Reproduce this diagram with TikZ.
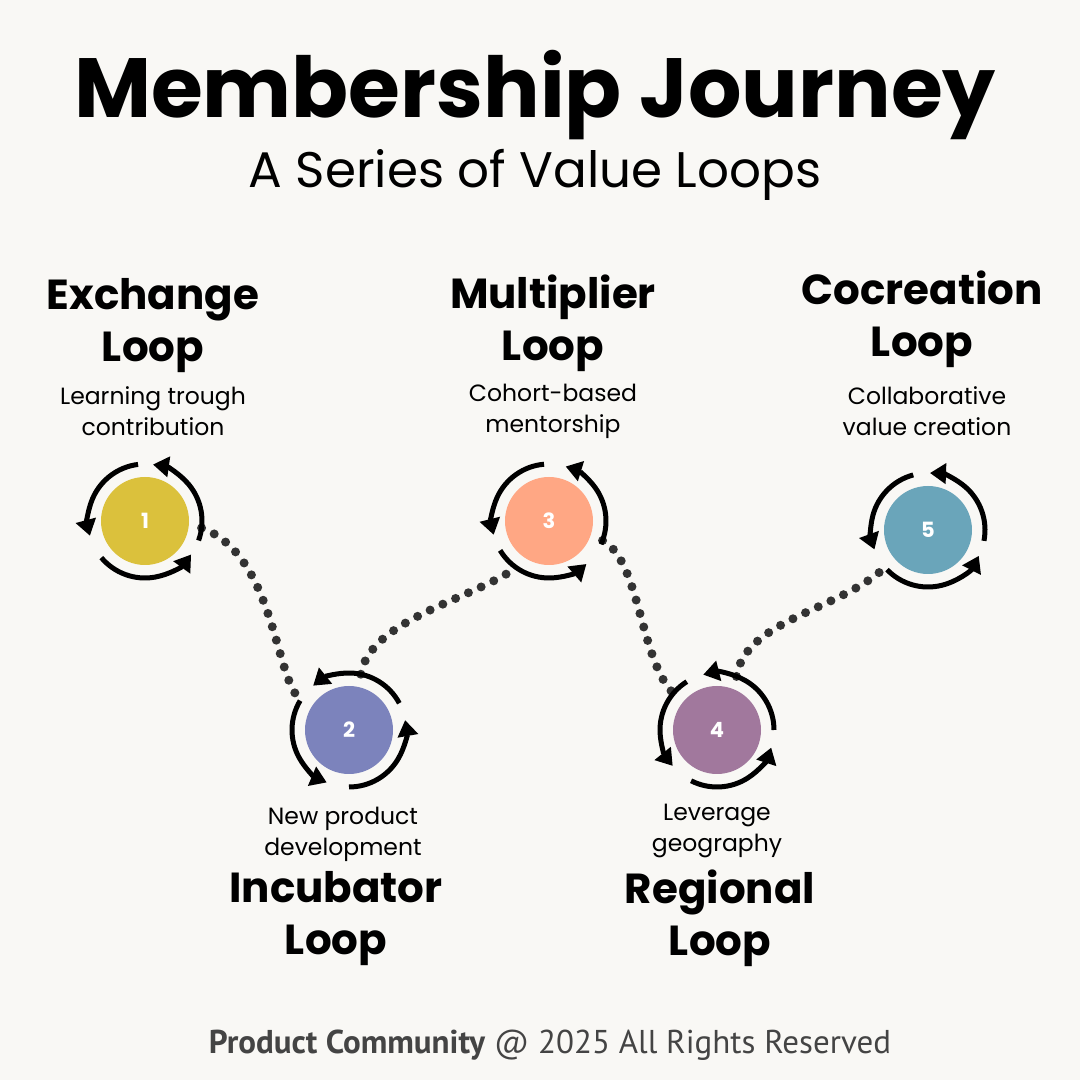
\documentclass[tikz,border=0pt]{standalone}
\usepackage{fontspec}
\setmainfont{Poppins}
\newfontfamily\footfont{PT Sans}
\usetikzlibrary{arrows.meta}

\definecolor{paper}{HTML}{F9F8F5}
\definecolor{loopyellow}{HTML}{DBC13C}
\definecolor{loopblue}{HTML}{7C83BC}
\definecolor{looppeach}{HTML}{FFA784}
\definecolor{loopmauve}{HTML}{A1789D}
\definecolor{loopteal}{HTML}{6AA5BA}
\definecolor{dotgrey}{HTML}{333333}
\definecolor{footgrey}{HTML}{444444}

\tikzset{
  disc/.style={circle, fill=#1, minimum size=88pt, inner sep=0pt, outer sep=13pt,
    text=white, font=\bfseries\fontsize{21}{21}\selectfont},
  ring/.style={line width=5pt, -{Triangle[length=16pt,width=20pt]}},
  trail/.style={dotgrey, line width=9pt, line cap=round, dash pattern=on 0pt off 14pt},
  head/.style={align=center, font=\bfseries\fontsize{42}{52}\selectfont},
  blurb/.style={align=center, font=\fontsize{23.5}{31}\selectfont},
}

% three arrows round a loop disc
\newcommand{\loopring}[2]{%
  \foreach \a/\b in {#2}
    \draw[ring] (#1.\a) arc[start angle=\a, end angle=\b, radius=57pt];}

\begin{document}
\begin{tikzpicture}[x=1pt, y=1pt]
    \useasboundingbox (0,0) rectangle (1080,1080);
    \fill[paper] (0,0) rectangle (1080,1080);

    \node (title) at (535,985) {\bfseries\fontsize{84}{84}\selectfont Membership Journey};
    \node (sub) at (535,905) {\fontsize{50}{50}\selectfont A Series of Value Loops};

    \node[disc=loopyellow] (c1) at (145,559) {1};
    \node[disc=loopblue]   (c2) at (349,350) {2};
    \node[disc=looppeach]  (c3) at (549,559) {3};
    \node[disc=loopmauve]  (c4) at (717,350) {4};
    \node[disc=loopteal]   (c5) at (928,550) {5};

    % dotted trail between loops
    \draw[trail] (c1.-7) .. controls (275,525) and (275,400) .. (c2.148);
    \draw[trail] (c2.78) .. controls (370,460) and (470,480) .. (c3.235);
    \draw[trail] (c3.-20) .. controls (640,520) and (640,420) .. (c4.140);
    \draw[trail] (c4.70) .. controls (745,460) and (840,470) .. (c5.221);

    \loopring{c1}{97/195,220/324,-20/82}
    \loopring{c2}{28/129,149/247,270/370}
    \loopring{c3}{95/194,211/311,-24/73}
    \loopring{c4}{0/104,122/219,243/342}
    \loopring{c5}{105/200,224/333,-11/88}

    \node[head]  (h1) at (153,754) {Exchange\\Loop};
    \node[blurb] (b1) at (153,669) {Learning trough\\contribution};
    \node[head]  (h3) at (553,757) {Multiplier\\Loop};
    \node[blurb] (b3) at (553,669) {Cohort-based\\mentorship};
    \node[head]  (h5) at (922,761) {Cocreation\\Loop};
    \node[blurb] (b5) at (927,669) {Collaborative\\value creation};

    \node[blurb] (b2) at (343,246) {New product\\development};
    \node[head]  (h2) at (336,161) {Incubator\\Loop};
    \node[blurb] (b4) at (717,249) {Leverage\\geography};
    \node[head]  (h4) at (720,162) {Regional\\Loop};

    \node[text=footgrey] (foot) at (550,35)
      {\footfont\fontsize{33}{33}\selectfont\textbf{Product Community} @ 2025 All Rights Reserved};
\end{tikzpicture}
\end{document}
